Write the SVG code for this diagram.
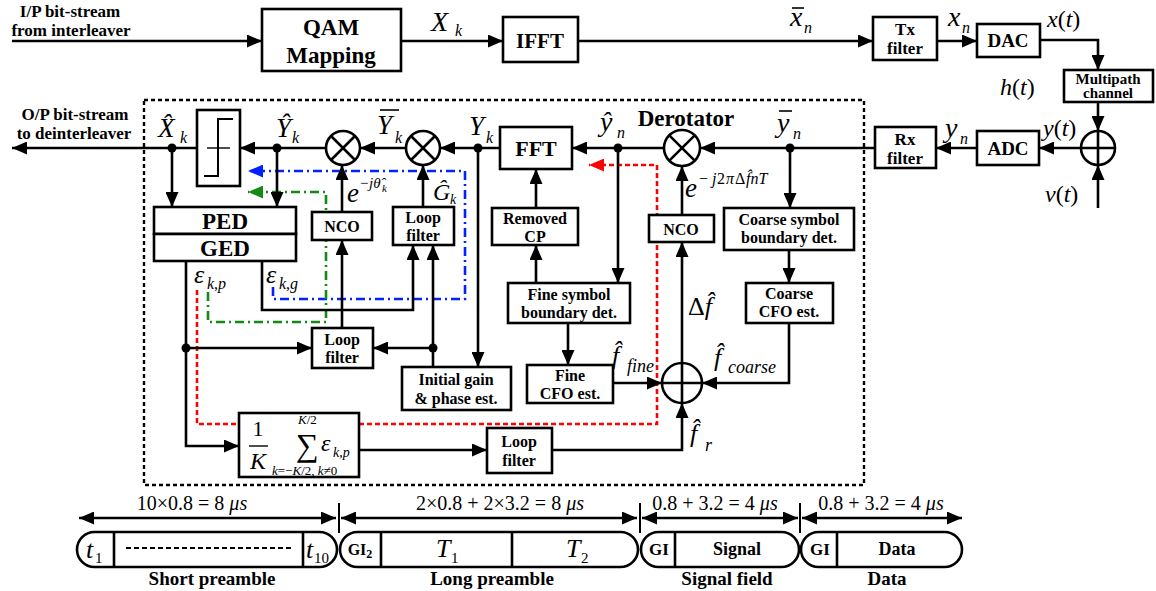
<svg xmlns="http://www.w3.org/2000/svg" width="1156" height="591" viewBox="0 0 1156 591">
<defs>
<style>
.bx{fill:#fff;stroke:#000;stroke-width:2.6}
.ln{fill:none;stroke:#000;stroke-width:2.6}
.ar{marker-end:url(#a)}
.da{marker-start:url(#a);marker-end:url(#a)}
.t{font-family:"Liberation Serif","Times New Roman",serif;font-weight:bold;text-anchor:middle;fill:#000}
.m{font-family:"Liberation Serif","Times New Roman",serif;font-style:italic;fill:#000}
.r{font-family:"Liberation Serif","Times New Roman",serif;font-style:normal;fill:#000}
.hat{font-style:normal}
.bar{stroke:#000;stroke-width:1.6}
.dashbox{fill:none;stroke:#000;stroke-width:2.4;stroke-dasharray:4 3}
.blue{fill:none;stroke:#0022ff;stroke-width:2.6;stroke-dasharray:9 4 2 4;marker-end:url(#ab)}
.green{fill:none;stroke:#138a13;stroke-width:2.6;stroke-dasharray:9 4 2 4;marker-end:url(#ag)}
.red{fill:none;stroke:#ff0000;stroke-width:2.6;stroke-dasharray:5 3;marker-end:url(#ar)}
</style>
<marker id="a" viewBox="0 0 15 13" refX="15" refY="6.5" markerWidth="15" markerHeight="13" markerUnits="userSpaceOnUse" orient="auto-start-reverse"><path d="M0,0L15,6.5L0,13z" fill="#000"/></marker>
<marker id="ab" viewBox="0 0 15 13" refX="15" refY="6.5" markerWidth="15" markerHeight="13" markerUnits="userSpaceOnUse" orient="auto"><path d="M0,0L15,6.5L0,13z" fill="#0022ff"/></marker>
<marker id="ag" viewBox="0 0 15 13" refX="15" refY="6.5" markerWidth="15" markerHeight="13" markerUnits="userSpaceOnUse" orient="auto"><path d="M0,0L15,6.5L0,13z" fill="#138a13"/></marker>
<marker id="ar" viewBox="0 0 15 13" refX="15" refY="6.5" markerWidth="15" markerHeight="13" markerUnits="userSpaceOnUse" orient="auto"><path d="M0,0L15,6.5L0,13z" fill="#ff0000"/></marker>
</defs>
<rect width="1156" height="591" fill="#fff"/>

<!-- dashed receiver box -->
<rect class="dashbox" x="144" y="100" width="720" height="385"/>

<!-- colored feedback paths -->
<g id="feedback">
<path class="blue" d="M273,287 V299 H465 V171 H248"/>
<path class="green" d="M208,292 V322 H326 V192 H248"/>
<path class="red" d="M197,290 V424 H657 V165 H589"/>
</g>

<g id="connectors">
<path class="ln ar" d="M12,41 H262"/>
<path class="ln ar" d="M401,41 H503"/>
<path class="ln ar" d="M578,41 H873"/>
<path class="ln ar" d="M937,41 H977"/>
<path class="ln ar" d="M1040,40 H1098 V70"/>
<path class="ln ar" d="M1098,102 V131"/>
<path class="ln ar" d="M1098,208 V165"/>
<path class="ln ar" d="M1081,148 H1039"/>
<path class="ln ar" d="M977,148 H936"/>
<path class="ln ar" d="M875,148 H700"/>
<path class="ln ar" d="M664,148 H572"/>
<path class="ln ar" d="M500,148 H440"/>
<path class="ln ar" d="M406,148 H360"/>
<path class="ln ar" d="M326,148 H240"/>
<path class="ln ar" d="M197,148 H12"/>
<path class="ln ar" d="M172,148 V207"/>
<path class="ln ar" d="M277,148 V207"/>
<path class="ln ar" d="M342,212 V165"/>
<path class="ln ar" d="M423,207 V165"/>
<path class="ln ar" d="M262,261 V310 H413 V245"/>
<path class="ln ar" d="M433,367 V245"/>
<path class="ln ar" d="M433,348 H373"/>
<path class="ln ar" d="M342,328 V240"/>
<path class="ln ar" d="M186,261 V446 H239"/>
<path class="ln ar" d="M186,348 H312"/>
<path class="ln ar" d="M478,148 V367"/>
<path class="ln ar" d="M618,148 V283"/>
<path class="ln ar" d="M536,283 V245"/>
<path class="ln ar" d="M536,208 V169"/>
<path class="ln ar" d="M568,323 V365"/>
<path class="ln ar" d="M613,383 H662"/>
<path class="ln ar" d="M682,363 V242"/>
<path class="ln ar" d="M682,215 V166"/>
<path class="ln ar" d="M790,148 V208"/>
<path class="ln ar" d="M789,250 V283"/>
<path class="ln ar" d="M789,323 V383 H702"/>
<path class="ln ar" d="M359,450 H487"/>
<path class="ln ar" d="M552,450 H682 V403"/>
<circle cx="790" cy="148" r="4.5"/>
<circle cx="618" cy="148" r="4.5"/>
<circle cx="478" cy="148" r="4.5"/>
<circle cx="277" cy="148" r="4.5"/>
<circle cx="172" cy="148" r="4.5"/>
<circle cx="433" cy="348" r="4.5"/>
<circle cx="186" cy="348" r="4.5"/>
</g>

<!-- top row -->
<text class="t" font-size="17"><tspan x="70" y="17">I/P bit-stream</tspan><tspan x="71" y="36">from interleaver</tspan></text>
<g id="qam"><rect class="bx" x="262" y="9" width="139" height="62"/><text class="t" x="331" y="35" font-size="23">QAM</text><text class="t" x="331" y="63" font-size="23">Mapping</text></g>
<text class="m" font-size="28"><tspan x="431" y="31">X</tspan><tspan x="455" y="36" font-size="16">k</tspan></text>
<g id="ifft"><rect class="bx" x="503" y="17" width="75" height="45"/><text class="t" x="540" y="48" font-size="21">IFFT</text></g>
<text class="m" font-size="28"><tspan x="790" y="26">x</tspan><tspan x="804" y="33" font-size="16">n</tspan></text><line class="bar" x1="792" y1="8" x2="804" y2="8"/>
<g id="txfilter"><rect class="bx" x="873" y="17" width="64" height="43"/><text class="t" x="905" y="35" font-size="17">Tx</text><text class="t" x="905" y="54" font-size="17">filter</text></g>
<text class="m" font-size="28"><tspan x="948" y="26">x</tspan><tspan x="962" y="33" font-size="16">n</tspan></text>
<g id="dac"><rect class="bx" x="977" y="24" width="63" height="33"/><text class="t" x="1008" y="47" font-size="19">DAC</text></g>
<text class="m" x="1047" y="27" font-size="24">x<tspan class="r">(</tspan>t<tspan class="r">)</tspan></text>
<g id="multipath"><rect class="bx" x="1064" y="70" width="89" height="32"/><text class="t" x="1108" y="84" font-size="15">Multipath</text><text class="t" x="1108" y="98" font-size="15">channel</text></g>
<text class="m" x="1000" y="95" font-size="24">h<tspan class="r">(</tspan>t<tspan class="r">)</tspan></text>
<g id="sum1"><circle cx="1098" cy="148" r="17" fill="#fff" stroke="#000" stroke-width="2.6"/><path class="ln" d="M1081,148 H1115 M1098,131 V165"/></g>
<text class="m" x="1043" y="136" font-size="24">y<tspan class="r">(</tspan>t<tspan class="r">)</tspan></text>
<text class="m" x="1045" y="202" font-size="24">v<tspan class="r">(</tspan>t<tspan class="r">)</tspan></text>
<g id="adc"><rect class="bx" x="977" y="131" width="62" height="34"/><text class="t" x="1008" y="155" font-size="19">ADC</text></g>
<text class="m" font-size="28"><tspan x="945" y="137">y</tspan><tspan x="960" y="144" font-size="16">n</tspan></text>
<g id="rxfilter"><rect class="bx" x="875" y="127" width="61" height="41"/><text class="t" x="905" y="145" font-size="17">Rx</text><text class="t" x="905" y="164" font-size="17">filter</text></g>

<!-- derotator and main path -->
<g id="derotator"><circle cx="682" cy="148" r="18" fill="#fff" stroke="#000" stroke-width="2.6"/><path class="ln" d="M669.3,135.3 L694.7,160.7 M694.7,135.3 L669.3,160.7"/><text class="t" x="686" y="126" font-size="23">Derotator</text></g>
<text class="m" font-size="28"><tspan x="777" y="132">y</tspan><tspan x="793" y="139" font-size="16">n</tspan></text><line class="bar" x1="779" y1="111" x2="792" y2="111"/>
<text class="m" font-size="28"><tspan x="600" y="131">ŷ</tspan><tspan x="617" y="138" font-size="16">n</tspan></text>
<g id="fft"><rect class="bx" x="500" y="127" width="72" height="42"/><text class="t" x="536" y="156" font-size="22">FFT</text></g>
<text class="m" font-size="27"><tspan x="469" y="135">Y</tspan><tspan x="486" y="143" font-size="16">k</tspan></text>
<g id="mult2"><circle cx="423" cy="148" r="17" fill="#fff" stroke="#000" stroke-width="2.6"/><path class="ln" d="M411,136 L435,160 M435,136 L411,160"/></g>
<g id="mult1"><circle cx="343" cy="148" r="17" fill="#fff" stroke="#000" stroke-width="2.6"/><path class="ln" d="M331,136 L355,160 M355,136 L331,160"/></g>
<text class="m" font-size="27"><tspan x="377" y="134">Y</tspan><tspan x="395" y="143" font-size="16">k</tspan></text><line class="bar" x1="380" y1="110" x2="399" y2="110"/>
<text class="m" font-size="27"><tspan x="276" y="137">Ŷ</tspan><tspan x="292" y="143" font-size="16">k</tspan></text>
<g id="slicer"><rect class="bx" x="197" y="110" width="43" height="76"/><path d="M204,176 H218 V119 H233" fill="none" stroke="#000" stroke-width="2"/><path d="M207,148 H230" stroke="#000" stroke-width="1.4"/></g>
<text class="m" font-size="27"><tspan x="158" y="137">X̂</tspan><tspan x="180" y="143" font-size="16">k</tspan></text>
<text class="t" font-size="17"><tspan x="75" y="120">O/P bit-stream</tspan><tspan x="74" y="139">to deinterleaver</tspan></text>
<g id="ped"><rect class="bx" x="154" y="207" width="142" height="27"/><text class="t" x="225" y="229" font-size="23">PED</text></g>
<g id="ged"><rect class="bx" x="154" y="234" width="142" height="27"/><text class="t" x="225" y="256" font-size="23">GED</text></g>

<g id="nco1"><rect class="bx" x="312" y="212" width="60" height="28"/><text class="t" x="342" y="232" font-size="16">NCO</text></g>
<text class="m" font-size="27"><tspan x="347" y="202">e</tspan><tspan class="hat" x="360" y="188" font-size="15">−</tspan><tspan x="369" y="188" font-size="15">jθ̂</tspan><tspan x="382" y="192" font-size="11">k</tspan></text>
<g id="loopfilter1"><rect class="bx" x="393" y="207" width="61" height="38"/><text class="t" x="423" y="223" font-size="16">Loop</text><text class="t" x="423" y="241" font-size="16">filter</text></g>
<text class="m" font-size="24"><tspan x="433" y="200">Ĝ</tspan><tspan x="450" y="204" font-size="14">k</tspan></text>
<text class="m" font-size="26"><tspan x="194" y="283">ε</tspan><tspan x="207" y="289" font-size="16">k<tspan class="hat">,</tspan>p</tspan></text>
<text class="m" font-size="26"><tspan x="266" y="283">ε</tspan><tspan x="279" y="289" font-size="16">k<tspan class="hat">,</tspan>g</tspan></text>
<g id="loopfilter2"><rect class="bx" x="312" y="328" width="61" height="40"/><text class="t" x="342" y="345" font-size="16">Loop</text><text class="t" x="342" y="363" font-size="16">filter</text></g>
<g id="initgain"><rect class="bx" x="402" y="367" width="109" height="43"/><text class="t" x="456" y="385" font-size="16">Initial gain</text><text class="t" x="456" y="404" font-size="16">&amp; phase est.</text></g>

<g id="removedcp"><rect class="bx" x="492" y="208" width="86" height="37"/><text class="t" x="535" y="224" font-size="16">Removed</text><text class="t" x="535" y="242" font-size="16">CP</text></g>
<g id="finesym"><rect class="bx" x="508" y="283" width="122" height="40"/><text class="t" x="569" y="300" font-size="16">Fine symbol</text><text class="t" x="569" y="318" font-size="16">boundary det.</text></g>
<g id="finecfo"><rect class="bx" x="527" y="365" width="86" height="38"/><text class="t" x="570" y="381" font-size="16">Fine</text><text class="t" x="570" y="399" font-size="16">CFO est.</text></g>
<g id="nco2"><rect class="bx" x="649" y="215" width="65" height="27"/><text class="t" x="681" y="235" font-size="16">NCO</text></g>
<text class="m" font-size="27"><tspan x="685" y="197">e</tspan><tspan class="hat" x="699" y="184" font-size="16">−</tspan><tspan x="712" y="184" font-size="16">j</tspan><tspan class="hat" x="717" y="184" font-size="16">2</tspan><tspan x="726" y="184" font-size="16">π</tspan><tspan class="hat" x="735" y="184" font-size="16">Δ</tspan><tspan x="746" y="184" font-size="16">f̂nT</tspan></text>
<g id="coarsesym"><rect class="bx" x="724" y="208" width="130" height="42"/><text class="t" x="789" y="225" font-size="16">Coarse symbol</text><text class="t" x="789" y="243" font-size="16">boundary det.</text></g>
<g id="coarsecfo"><rect class="bx" x="746" y="283" width="87" height="40"/><text class="t" x="789" y="299" font-size="16">Coarse</text><text class="t" x="789" y="317" font-size="16">CFO est.</text></g>
<text class="r" font-size="26"><tspan x="688" y="315">Δ</tspan><tspan class="m">f̂</tspan></text>
<g id="sum2"><circle cx="682" cy="383" r="20" fill="#fff" stroke="#000" stroke-width="2.6"/><path class="ln" d="M662,383 H702 M682,363 V403"/></g>
<text class="m" font-size="26"><tspan x="714" y="366">f̂</tspan><tspan x="728" y="373" font-size="18">coarse</tspan></text>
<text class="m" font-size="26"><tspan x="612" y="364">f̂</tspan><tspan x="627" y="372" font-size="18">fine</tspan></text>
<text class="m" font-size="26"><tspan x="690" y="442">f̂</tspan><tspan x="705" y="451" font-size="18">r</tspan></text>
<g id="loopfilter3"><rect class="bx" x="487" y="428" width="65" height="45"/><text class="t" x="519" y="447" font-size="16">Loop</text><text class="t" x="519" y="466" font-size="16">filter</text></g>
<g id="avg"><rect class="bx" x="239" y="413" width="120" height="64"/>
<text class="r" x="258" y="436" font-size="22" text-anchor="middle">1</text><line x1="249" y1="446" x2="268" y2="446" stroke="#000" stroke-width="1.4"/><text class="m" x="258" y="469" font-size="24" text-anchor="middle">K</text>
<text class="m" x="298" y="424" font-size="13">K<tspan class="hat">/2</tspan></text>
<text class="r" x="296" y="456" font-size="32">∑</text>
<text class="m" font-size="24"><tspan x="321" y="451">ε</tspan><tspan x="333" y="457" font-size="14">k<tspan class="hat">,</tspan>p</tspan></text>
<text class="m" x="272" y="475" font-size="13">k<tspan class="hat">=−</tspan>K<tspan class="hat">/2, </tspan>k<tspan class="hat">≠0</tspan></text>
</g>

<!-- timeline -->
<g id="timeline-arrows">
<path class="ln da" d="M79,518 H336"/>
<path class="ln da" d="M341,518 H637"/>
<path class="ln da" d="M642,518 H798"/>
<path class="ln da" d="M802,518 H962"/>
<path d="M339,503 V533 M640,503 V533 M800,503 V533" stroke="#000" stroke-width="2"/>
</g>
<text class="r" x="192" y="510" font-size="20" text-anchor="middle">10×0.8 = 8 <tspan class="m">μs</tspan></text>
<text class="r" x="500" y="510" font-size="20" text-anchor="middle">2×0.8 + 2×3.2 = 8 <tspan class="m">μs</tspan></text>
<text class="r" x="715" y="510" font-size="20" text-anchor="middle">0.8 + 3.2 = 4 <tspan class="m">μs</tspan></text>
<text class="r" x="881" y="510" font-size="20" text-anchor="middle">0.8 + 3.2 = 4 <tspan class="m">μs</tspan></text>
<g id="shortpre"><rect class="bx" x="77" y="532" width="260" height="35" rx="17.5"/><path d="M114,532 V567 M303,532 V567" stroke="#000" stroke-width="2.6"/><path d="M126,548 H292" stroke="#000" stroke-width="2.2" stroke-dasharray="5 3"/>
<text class="m" font-size="26"><tspan x="86" y="558">t</tspan><tspan class="hat" x="95" y="563" font-size="15">1</tspan></text>
<text class="m" font-size="26"><tspan x="306" y="558">t</tspan><tspan class="hat" x="314" y="563" font-size="15">10</tspan></text></g>
<g id="longpre"><rect class="bx" x="340" y="532" width="298" height="35" rx="17.5"/><path d="M381,532 V567 M512,532 V567" stroke="#000" stroke-width="2.6"/>
<text class="t" x="360" y="555" font-size="16">GI<tspan font-size="12" dy="3">2</tspan></text>
<text class="m" font-size="26"><tspan x="436" y="557">T</tspan><tspan class="hat" x="451" y="563" font-size="15">1</tspan></text>
<text class="m" font-size="26"><tspan x="566" y="557">T</tspan><tspan class="hat" x="581" y="563" font-size="15">2</tspan></text></g>
<g id="signalfield"><rect class="bx" x="641" y="532" width="158" height="35" rx="17.5"/><path d="M675,532 V567" stroke="#000" stroke-width="2.6"/>
<text class="t" x="659" y="555" font-size="17">GI</text><text class="t" x="737" y="555" font-size="18">Signal</text></g>
<g id="data"><rect class="bx" x="801" y="532" width="161" height="35" rx="17.5"/><path d="M837,532 V567" stroke="#000" stroke-width="2.6"/>
<text class="t" x="820" y="555" font-size="17">GI</text><text class="t" x="897" y="555" font-size="18">Data</text></g>
<text class="t" x="212" y="585" font-size="19">Short preamble</text>
<text class="t" x="492" y="585" font-size="19">Long preamble</text>
<text class="t" x="727" y="585" font-size="19">Signal field</text>
<text class="t" x="887" y="585" font-size="19">Data</text>
</svg>
